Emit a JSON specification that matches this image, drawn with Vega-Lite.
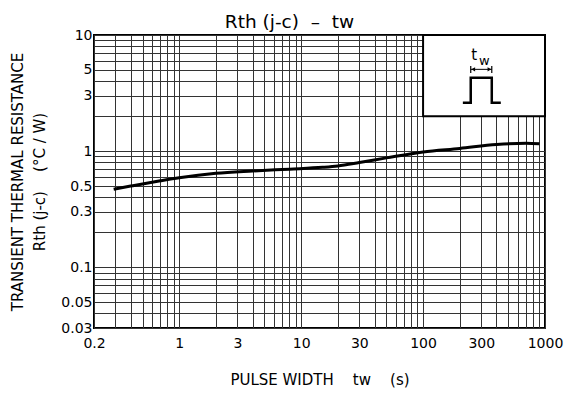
{
  "$schema": "https://vega.github.io/schema/vega-lite/v6.json",
  "width": 451,
  "height": 293,
  "autosize": {"type": "none"},
  "padding": {"left": 94, "top": 35, "right": 20, "bottom": 68},
  "background": "white",
  "config": {
    "font": "DejaVu Sans",
    "view": {"stroke": "black", "strokeWidth": 2},
    "axis": {"labelFont": "DejaVu Sans", "titleFont": "DejaVu Sans", "labelColor": "black", "titleColor": "black"}
  },
  "title": {"text": "Rth (j-c)\u00a0\u00a0–\u00a0\u00a0tw", "fontSize": 18.5, "fontWeight": "normal", "font": "DejaVu Sans", "color": "black", "dx": -30, "offset": -3},
  "datasets": {
    "curve": [
      {"x": 0.29, "y": 0.47},
      {"x": 0.4, "y": 0.5},
      {"x": 0.7, "y": 0.555},
      {"x": 1.0, "y": 0.59},
      {"x": 2.0, "y": 0.645},
      {"x": 4.0, "y": 0.675},
      {"x": 8.0, "y": 0.7},
      {"x": 15.0, "y": 0.725},
      {"x": 20.0, "y": 0.745},
      {"x": 30.0, "y": 0.797},
      {"x": 50.0, "y": 0.875},
      {"x": 100.0, "y": 0.985},
      {"x": 200.0, "y": 1.055},
      {"x": 400.0, "y": 1.14},
      {"x": 700.0, "y": 1.17},
      {"x": 900.0, "y": 1.155}
    ],
    "inset": [{"x": 100, "x2": 1000, "y": 2, "y2": 10}],
    "pulse": [
      {"x": 212, "y": 2.61, "o": 1},
      {"x": 246, "y": 2.61, "o": 2},
      {"x": 246, "y": 4.28, "o": 3},
      {"x": 366, "y": 4.28, "o": 4},
      {"x": 366, "y": 2.61, "o": 5},
      {"x": 434, "y": 2.61, "o": 6}
    ],
    "edges": [
      {"x": 246, "y": 4.7, "y2": 5.4},
      {"x": 366, "y": 4.7, "y2": 5.4}
    ],
    "arrowline": [{"x": 246, "x2": 366, "y": 5.06}],
    "arrowL": [{"x": 258, "y": 5.06}],
    "arrowR": [{"x": 350, "y": 5.06}],
    "labT": [{"x": 262, "y": 6.7, "txt": "t"}],
    "labW": [{"x": 318, "y": 6.0, "txt": "w"}]
  },
  "encoding": {
    "x": {
      "field": "x",
      "type": "quantitative",
      "scale": {"type": "log", "domain": [0.2, 1000], "nice": false},
      "axis": {
        "values": [0.2, 0.3, 0.4, 0.5, 0.6, 0.7, 0.8, 0.9, 1, 2, 3, 4, 5, 6, 7, 8, 9, 10, 20, 30, 40, 50, 60, 70, 80, 90, 100, 200, 300, 400, 500, 600, 700, 800, 900, 1000],
        "labelExpr": "indexof([0.2, 1, 3, 10, 30, 100, 300, 1000], datum.value) >= 0 ? format(datum.value, '~g') : ''",
        "labelOverlap": false,
        "labelFlush": false,
        "labelFontSize": 14,
        "labelPadding": 8,
        "ticks": false,
        "domain": false,
        "grid": true,
        "gridColor": "#333333",
        "gridWidth": 1,
        "title": "PULSE WIDTH\u00a0\u00a0\u00a0\u00a0tw\u00a0\u00a0\u00a0\u00a0(s)",
        "titleFontSize": 15,
        "titleFontWeight": "normal",
        "titlePadding": 22
      }
    },
    "y": {
      "field": "y",
      "type": "quantitative",
      "scale": {"type": "log", "domain": [0.03, 10], "nice": false},
      "axis": {
        "values": [0.03, 0.04, 0.05, 0.06, 0.07, 0.08, 0.09, 0.1, 0.2, 0.3, 0.4, 0.5, 0.6, 0.7, 0.8, 0.9, 1, 2, 3, 4, 5, 6, 7, 8, 9, 10],
        "labelExpr": "indexof([0.03, 0.05, 0.1, 0.3, 0.5, 1, 3, 5, 10], datum.value) >= 0 ? format(datum.value, '~g') : ''",
        "labelOverlap": false,
        "labelFlush": false,
        "labelFontSize": 14,
        "labelPadding": 2,
        "ticks": false,
        "domain": false,
        "grid": true,
        "gridColor": "#333333",
        "gridWidth": 1,
        "title": ["TRANSIENT THERMAL RESISTANCE", "Rth (j-c)\u00a0\u00a0\u00a0\u00a0(°C / W)"],
        "titleFontSize": 15,
        "titleFontWeight": "normal",
        "titleLineHeight": 22,
        "titlePadding": 13
      }
    }
  },
  "layer": [
    {
      "data": {"name": "curve"},
      "mark": {"type": "line", "color": "black", "strokeWidth": 3, "interpolate": "monotone"}
    },
    {
      "data": {"name": "inset"},
      "mark": {"type": "rect", "fill": "white", "stroke": "black", "strokeWidth": 2},
      "encoding": {"x2": {"field": "x2"}, "y2": {"field": "y2"}}
    },
    {
      "data": {"name": "pulse"},
      "mark": {"type": "line", "color": "black", "strokeWidth": 2.5, "interpolate": "linear"},
      "encoding": {"order": {"field": "o", "type": "quantitative"}}
    },
    {
      "data": {"name": "edges"},
      "mark": {"type": "rule", "color": "black", "strokeWidth": 1.2},
      "encoding": {"y2": {"field": "y2"}}
    },
    {
      "data": {"name": "arrowline"},
      "mark": {"type": "rule", "color": "black", "strokeWidth": 1},
      "encoding": {"x2": {"field": "x2"}}
    },
    {
      "data": {"name": "arrowL"},
      "mark": {"type": "point", "shape": "triangle-left", "filled": true, "color": "black", "size": 18, "opacity": 1}
    },
    {
      "data": {"name": "arrowR"},
      "mark": {"type": "point", "shape": "triangle-right", "filled": true, "color": "black", "size": 18, "opacity": 1}
    },
    {
      "data": {"name": "labT"},
      "mark": {"type": "text", "fontSize": 15, "color": "black", "font": "DejaVu Sans"},
      "encoding": {"text": {"field": "txt"}}
    },
    {
      "data": {"name": "labW"},
      "mark": {"type": "text", "fontSize": 13, "color": "black", "font": "DejaVu Sans"},
      "encoding": {"text": {"field": "txt"}}
    }
  ]
}
